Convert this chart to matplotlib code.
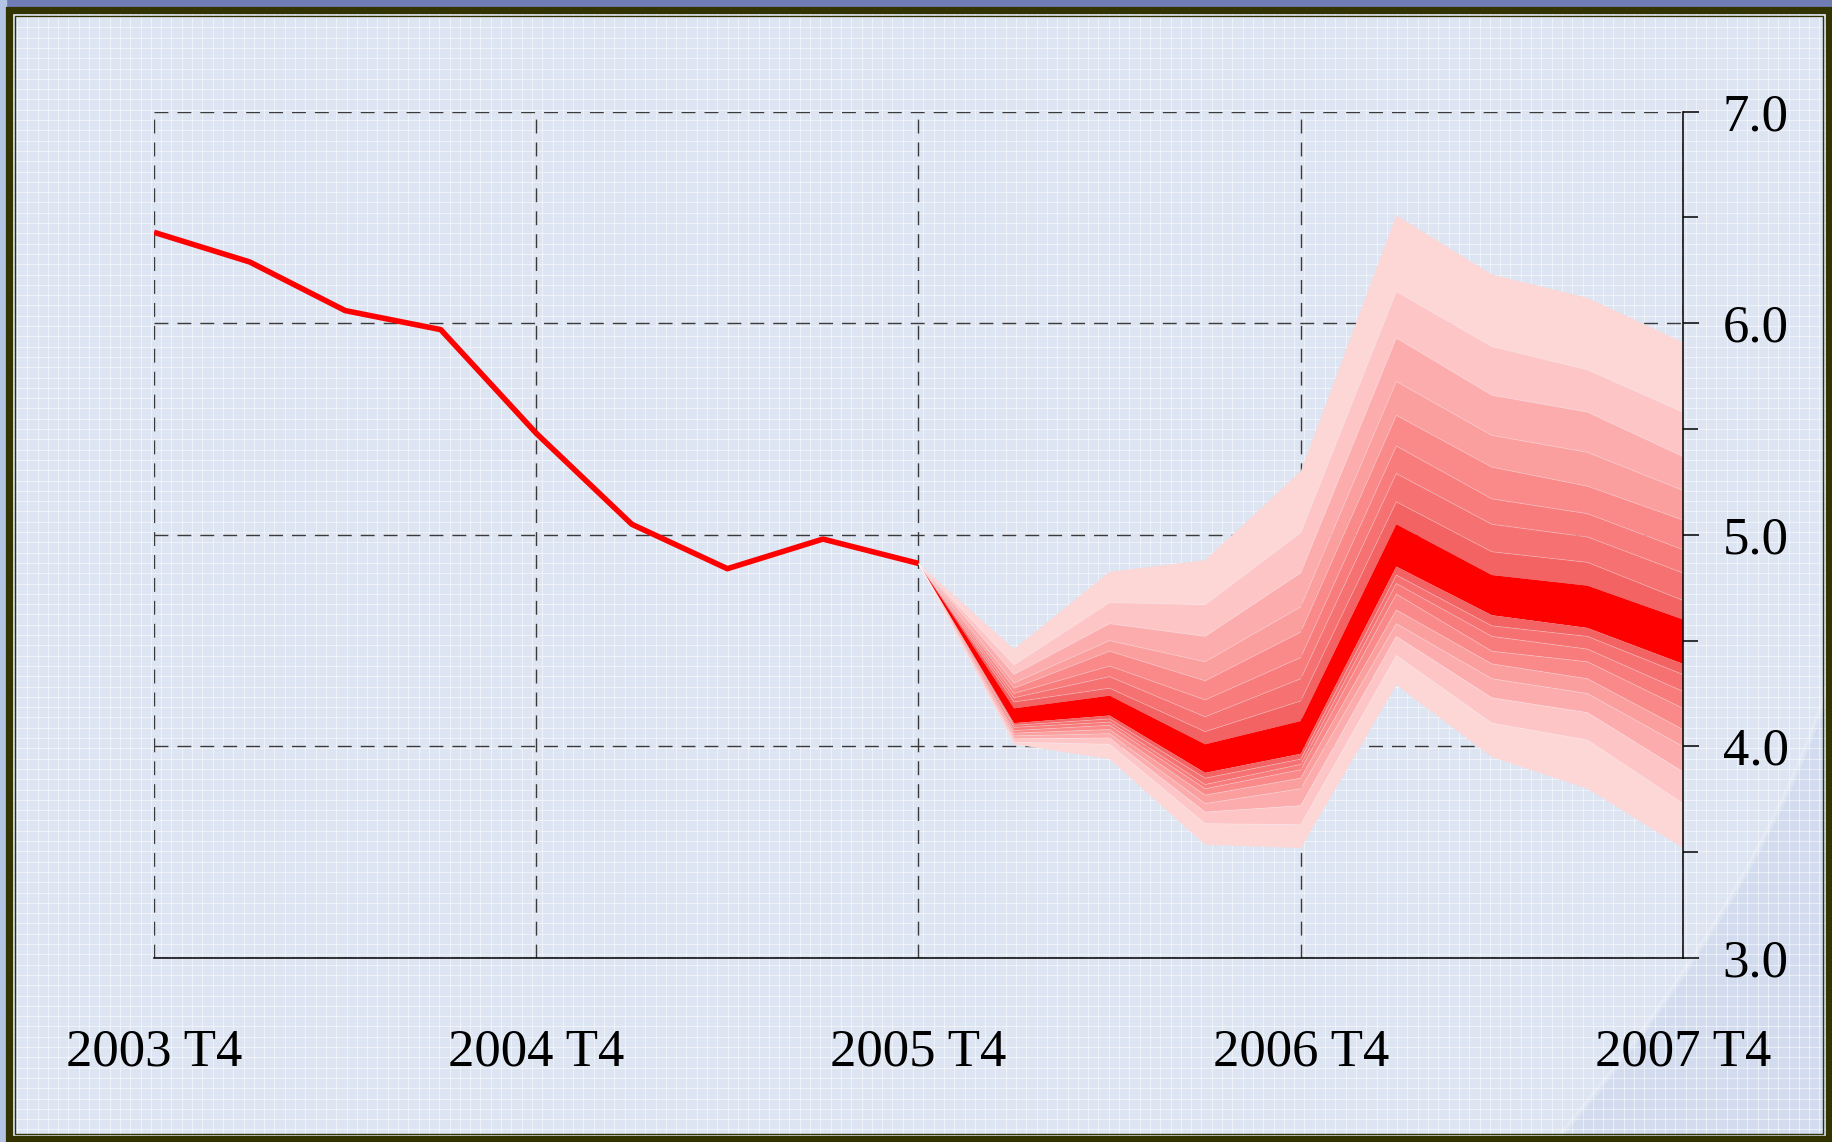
import numpy as np
import matplotlib
matplotlib.use("Agg")
import matplotlib.pyplot as plt
from matplotlib.collections import LineCollection
from matplotlib.patches import Rectangle, PathPatch
from matplotlib.path import Path

# ---------------- data ----------------
x_labels = ["2003 T4", "2004 T4", "2005 T4", "2006 T4", "2007 T4"]
y_major = [3.0, 4.0, 5.0, 6.0, 7.0]

# historical quarterly values, 2003 T4 .. 2005 T4
hist = [6.43, 6.29, 6.06, 5.97, 5.48, 5.05, 4.84, 4.98, 4.865]

# fan boundaries per forecast quarter, top to bottom (18 boundaries -> 17 bands)
fan_2006T1 = [4.46, 4.385, 4.34, 4.30, 4.275, 4.25, 4.23, 4.21, 4.18,
              4.11, 4.10, 4.09, 4.075, 4.063, 4.05, 4.036, 4.02, 4.01]
fan_2006T2 = [4.825, 4.68, 4.58, 4.50, 4.45, 4.38, 4.33, 4.275, 4.24,
              4.146, 4.13, 4.115, 4.10, 4.08, 4.06, 4.04, 4.01, 3.94]
fan_2006T3 = [4.88, 4.67, 4.52, 4.40, 4.31, 4.22, 4.14, 4.07, 4.01,
              3.875, 3.85, 3.82, 3.80, 3.77, 3.73, 3.69, 3.635, 3.535]
fan_2006T4 = [5.30, 5.01, 4.82, 4.66, 4.54, 4.42, 4.32, 4.215, 4.12,
              3.965, 3.94, 3.915, 3.89, 3.85, 3.80, 3.72, 3.63, 3.52]
fan_2007T1 = [6.51, 6.15, 5.93, 5.725, 5.565, 5.42, 5.29, 5.156, 5.05,
              4.85, 4.81, 4.77, 4.72, 4.645, 4.58, 4.52, 4.43, 4.29]
fan_2007T2 = [6.23, 5.89, 5.66, 5.47, 5.32, 5.17, 5.05, 4.92, 4.81,
              4.62, 4.57, 4.52, 4.45, 4.39, 4.32, 4.23, 4.11, 3.95]
fan_2007T3 = [6.12, 5.78, 5.58, 5.39, 5.23, 5.10, 4.99, 4.87, 4.76,
              4.56, 4.52, 4.46, 4.40, 4.32, 4.25, 4.16, 4.03, 3.80]
fan_2007T4 = [5.91, 5.58, 5.37, 5.21, 5.07, 4.93, 4.82, 4.69, 4.60,
              4.39, 4.34, 4.26, 4.18, 4.08, 4.00, 3.88, 3.73, 3.52]
fan_quarters = [fan_2006T1, fan_2006T2, fan_2006T3, fan_2006T4,
                fan_2007T1, fan_2007T2, fan_2007T3, fan_2007T4]

# band shades, outermost -> innermost, then the central band
band_shades = ["#fdd6d6", "#fec5c7", "#fcacac", "#fb9e9e",
               "#fa8a8a", "#f87c7c", "#f67272", "#f36363"]
core_color = "#ff0000"

# ---------------- figure ----------------
W, H = 1833, 1142
fig = plt.figure(figsize=(W / 100, H / 100), dpi=100)
bg_color = "#dde4f2"
fig.patch.set_facecolor(bg_color)

# background decoration axes (pixel coordinates)
bg = fig.add_axes([0, 0, 1, 1])
bg.set_xlim(0, W)
bg.set_ylim(H, 0)
bg.axis("off")
bg.add_patch(Rectangle((0, 0), W, H, color=bg_color, zorder=0))

# swoosh in the lower right corner
verts = [(W, 670), (1800, 790), (1710, 960), (1555, H), (W, H), (W, 670)]
codes = [Path.MOVETO, Path.CURVE4, Path.CURVE4, Path.CURVE4, Path.LINETO, Path.CLOSEPOLY]
bg.add_patch(PathPatch(Path(verts, codes), facecolor="#cbd7ec", edgecolor="none", alpha=0.6, zorder=0.5))
edge = Path(verts[:4], codes[:4])
bg.add_patch(PathPatch(edge, facecolor="none", edgecolor="white", lw=4, alpha=0.22, zorder=0.6))

# fine white grid pattern
step = 10.3
xs = np.arange(17, W, step)
ys = np.arange(17, H, step)
segs = [[(x, 0), (x, H)] for x in xs] + [[(0, y), (W, y)] for y in ys]
bg.add_collection(LineCollection(segs, colors="white", linewidths=0.8, alpha=0.5, zorder=0.7))

# window frame
bg.add_patch(Rectangle((0, 0), W, 6, color="#6f7cb5", zorder=2))
bg.add_patch(Rectangle((0, 0), 6, H, color="#b4c4e4", zorder=2))
frame_col = "#333300"
bg.add_patch(Rectangle((9.5, 9.5), W - 13, H - 13, fill=False, edgecolor=frame_col, lw=5.2, zorder=3))
bg.add_patch(Rectangle((15.5, 15.5), W - 25, H - 24, fill=False, edgecolor=frame_col, lw=1.0, zorder=3))

# ---------------- main chart ----------------
left, right, top, bottom = 154, 1683, 111.7, 958
ax = fig.add_axes([left / W, 1 - bottom / H, (right - left) / W, (bottom - top) / H])
ax.set_facecolor("none")
ax.set_xlim(0, 16)
ax.set_ylim(3, 7)

x_hist = np.arange(len(hist))
x_fan = np.arange(len(hist) - 1, len(hist) + len(fan_quarters))

nb = len(fan_2006T1)
bounds = [[hist[-1]] + [q[j] for q in fan_quarters] for j in range(nb)]
colors = band_shades + [core_color] + band_shades[::-1]
for j in range(nb - 1):
    ax.fill_between(x_fan, bounds[j], bounds[j + 1], facecolor=colors[j],
                    edgecolor="none", lw=0, zorder=1)
for j in range(1, nb - 1):
    if j in (8, 9):
        continue
    ax.plot(x_fan, bounds[j], color="white", lw=0.6, alpha=0.3, zorder=1.5)

ax.plot(x_hist, hist, color="#ff0000", lw=4.0, zorder=3, solid_capstyle="butt")

# axes styling
for s in ("left", "top"):
    ax.spines[s].set_visible(False)
for s in ("right", "bottom"):
    ax.spines[s].set_color("black")
    ax.spines[s].set_linewidth(1.1)

ax.set_xticks([0, 4, 8, 12, 16])
ax.set_xticklabels(x_labels)
ax.yaxis.tick_right()
ax.set_yticks(y_major)
ax.set_yticklabels([f"{v:.1f}" for v in y_major])
ax.set_yticks([3.5, 4.5, 5.5, 6.5], minor=True)

font_family = ["Liberation Serif", "DejaVu Serif"]
for lab in ax.get_xticklabels() + ax.get_yticklabels():
    lab.set_fontfamily(font_family)
    lab.set_fontsize(38)
    lab.set_color("black")

ax.tick_params(axis="x", length=0, pad=51)
ax.tick_params(axis="y", which="major", direction="out", length=11.5, width=1.1, pad=17, right=True, left=False)
ax.tick_params(axis="y", which="minor", direction="out", length=10.5, width=1.1, right=True, left=False)

ax.set_axisbelow(True)
ax.grid(True, which="major", color="#3a3a3a", linestyle=(0, (10, 6.5)), linewidth=1.0)

fig.savefig("out.png", dpi=100, facecolor=fig.get_facecolor())
